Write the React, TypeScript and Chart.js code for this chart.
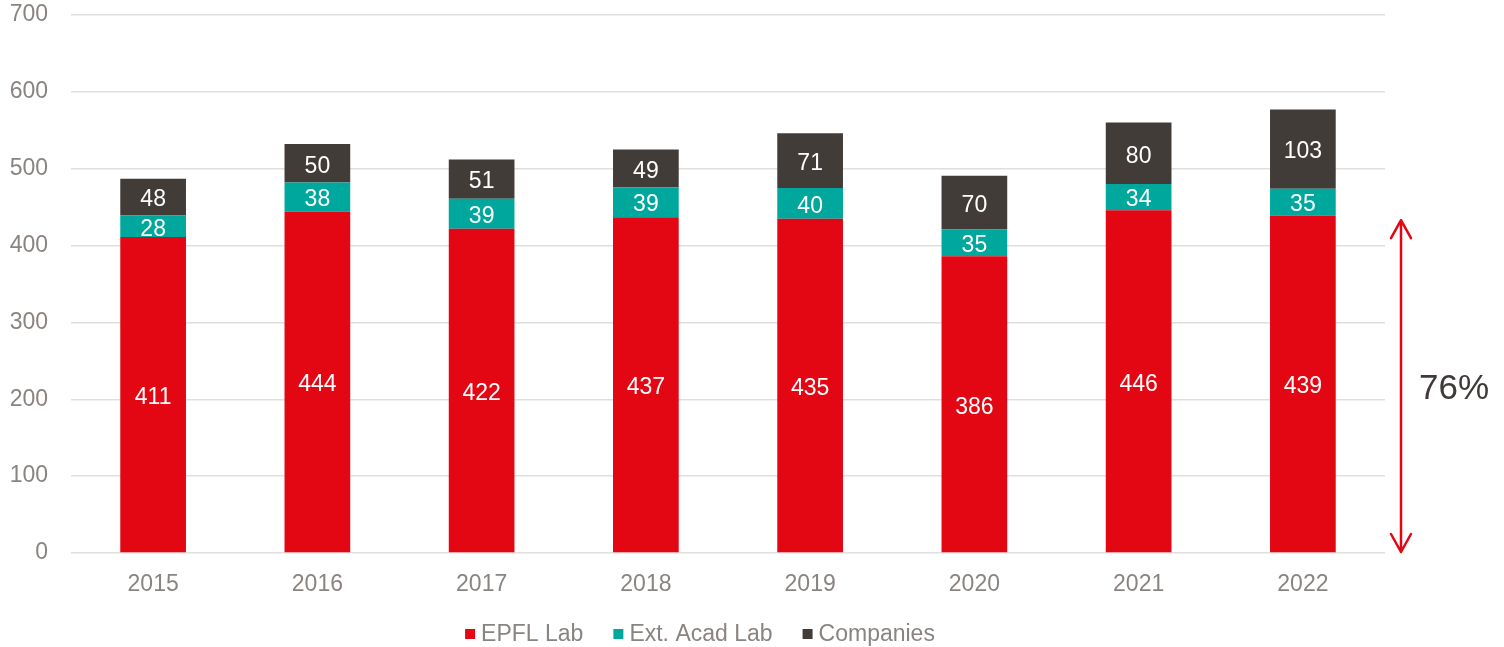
import React, { useEffect, useRef } from "react";
import { Chart, registerables } from "chart.js";

Chart.register(...registerables);

const years = ["2015", "2016", "2017", "2018", "2019", "2020", "2021", "2022"];
const epflLab = [411, 444, 422, 437, 435, 386, 446, 439];
const extAcadLab = [28, 38, 39, 39, 40, 35, 34, 35];
const companies = [48, 50, 51, 49, 71, 70, 80, 103];
const seriesNames = ["EPFL Lab", "Ext. Acad Lab", "Companies"];
const seriesColors = ["#E30613", "#00A79D", "#423C39"];
const yMin = 0;
const yMax = 700;
const yStep = 100;
const shareLabel = "76%";
const arrowTopValue = 433;

const FONT = "'Liberation Sans', Arial, Helvetica, sans-serif";
const TEXT_GRAY = "#8A8481";

const overlayPlugin = {
  id: "overlay",
  afterDatasetsDraw(chart: any) {
    const ctx = chart.ctx;
    ctx.save();
    // segment value labels
    ctx.font = `23px ${FONT}`;
    ctx.fillStyle = "#FFFFFF";
    ctx.textAlign = "center";
    ctx.textBaseline = "middle";
    chart.data.datasets.forEach((ds: any, i: number) => {
      const meta = chart.getDatasetMeta(i);
      meta.data.forEach((bar: any, j: number) => {
        const p = bar.getProps(["x", "y", "base"], true);
        ctx.fillText(String(ds.data[j]), p.x, (p.y + p.base) / 2 + 3);
      });
    });

    // double arrow annotation
    const yScale = chart.scales.y;
    const area = chart.chartArea;
    const ax = area.right + 16;
    const yTop = yScale.getPixelForValue(arrowTopValue);
    const yBot = yScale.getPixelForValue(yMin) - 1;
    ctx.strokeStyle = "#E30613";
    ctx.lineWidth = 2.5;
    ctx.lineCap = "round";
    ctx.lineJoin = "round";
    ctx.beginPath();
    ctx.moveTo(ax, yTop);
    ctx.lineTo(ax, yBot);
    ctx.moveTo(ax - 10, yTop + 18);
    ctx.lineTo(ax, yTop);
    ctx.lineTo(ax + 10, yTop + 18);
    ctx.moveTo(ax - 10, yBot - 18);
    ctx.lineTo(ax, yBot);
    ctx.lineTo(ax + 10, yBot - 18);
    ctx.stroke();

    ctx.font = `35px ${FONT}`;
    ctx.fillStyle = "#3F3A38";
    ctx.textAlign = "center";
    ctx.textBaseline = "middle";
    ctx.fillText(shareLabel, ax + 53, (yTop + yBot) / 2 + 3);

    // legend
    ctx.font = `23px ${FONT}`;
    ctx.textAlign = "left";
    const box = 10;
    const gapText = 6;
    const gapItem = 30;
    const widths = seriesNames.map((n) => ctx.measureText(n).width);
    const total =
      widths.reduce((a, b) => a + b, 0) + seriesNames.length * (box + gapText) + gapItem * (seriesNames.length - 1);
    let x = 700 - total / 2;
    const ly = 634;
    seriesNames.forEach((n, i) => {
      ctx.fillStyle = seriesColors[i];
      ctx.fillRect(x, ly - box / 2, box, box);
      ctx.fillStyle = TEXT_GRAY;
      ctx.fillText(n, x + box + gapText, ly + 1);
      x += box + gapText + widths[i] + gapItem;
    });
    ctx.restore();
  },
};

export default function App() {
  const canvasRef = useRef<HTMLCanvasElement>(null);

  useEffect(() => {
    if (!canvasRef.current) return;
    const seriesData = [epflLab, extAcadLab, companies];
    const chart = new Chart(canvasRef.current, {
      type: "bar",
      data: {
        labels: years,
        datasets: seriesNames.map((name, i) => ({
          label: name,
          data: seriesData[i],
          backgroundColor: seriesColors[i],
          borderWidth: 0,
          barPercentage: 0.4,
          categoryPercentage: 1,
        })),
      },
      options: {
        animation: false,
        responsive: true,
        maintainAspectRatio: false,
        layout: { padding: { top: 15, right: 119, bottom: 51, left: 0 } },
        plugins: {
          legend: { display: false },
          tooltip: { enabled: false },
        },
        scales: {
          x: {
            stacked: true,
            afterFit: (s: any) => {
              s.height = 43;
              s.paddingLeft = 0;
              s.paddingRight = 0;
            },
            grid: { display: false, drawTicks: false },
            border: { display: false },
            ticks: {
              color: TEXT_GRAY,
              font: { family: FONT, size: 23 },
              padding: 18,
            },
          },
          y: {
            stacked: true,
            min: yMin,
            max: yMax,
            afterFit: (s: any) => {
              s.width = 71;
              s.paddingTop = 0;
              s.paddingBottom = 0;
            },
            grid: { color: "#E2DEDE", lineWidth: 1.5, drawTicks: false },
            border: { display: false },
            ticks: {
              stepSize: yStep,
              color: TEXT_GRAY,
              font: { family: FONT, size: 23 },
              padding: 23,
            },
          },
        },
      },
      plugins: [overlayPlugin],
    });
    return () => chart.destroy();
  }, []);

  return (
    <div style={{ position: "fixed", left: 0, top: 0, width: 1504, height: 647, background: "#FFFFFF" }}>
      <canvas ref={canvasRef} />
    </div>
  );
}
